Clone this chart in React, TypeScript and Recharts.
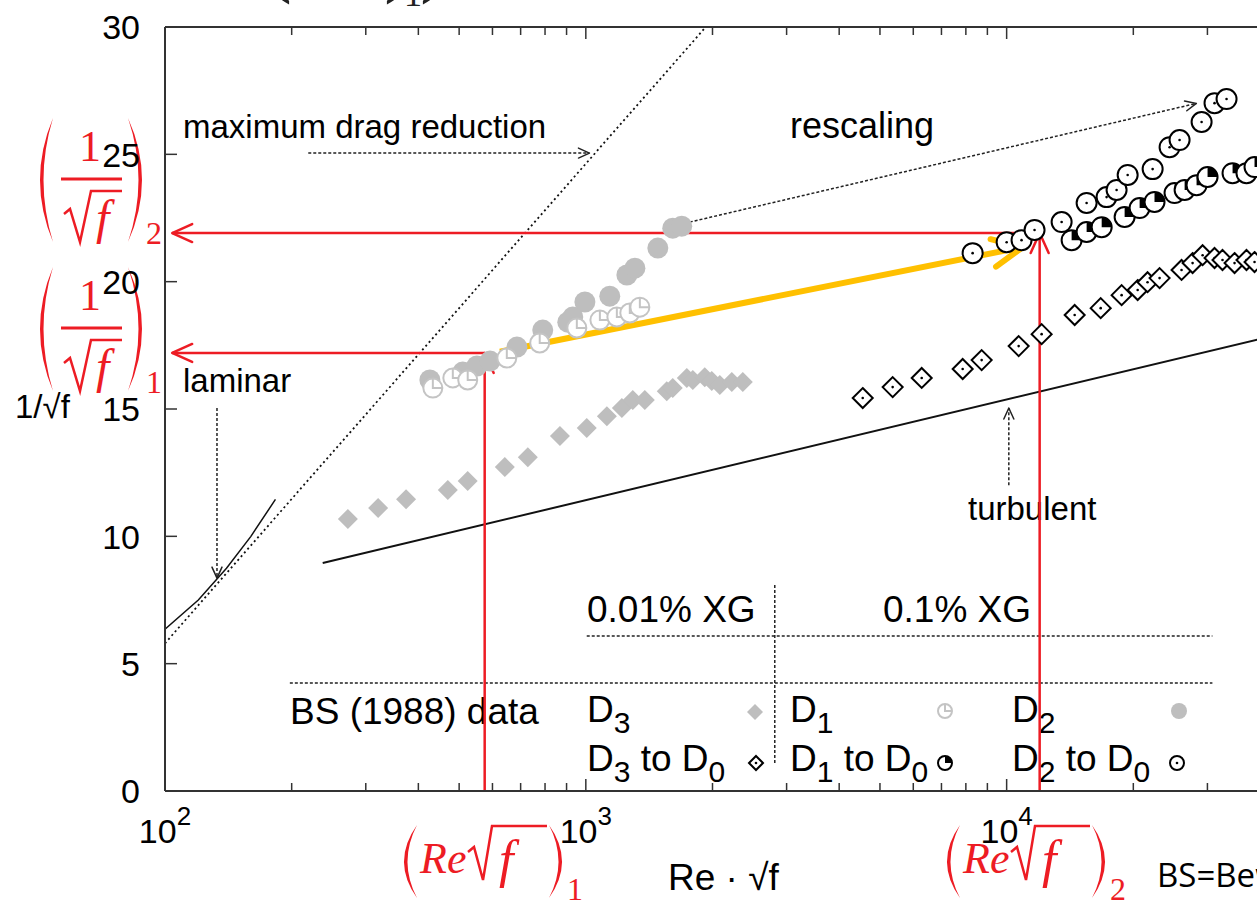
import React from "react";
import { ComposedChart, Scatter, Line, XAxis, YAxis, ReferenceLine } from "recharts";

const SANS = "'Liberation Sans', Arial, sans-serif";
const SERIF = "'Liberation Serif', 'DejaVu Serif', serif";
const RED = "#ed1c24";
const GRAY = "#bebebe";
const YELLOW = "#ffc000";

// Re*sqrt(f) vs 1/sqrt(f)
const d3Bs = [[272, 10.68], [321, 11.11], [374, 11.46], [470, 11.82], [524, 12.17], [642, 12.72], [728, 13.11], [868, 13.94], [1005, 14.25], [1122, 14.72], [1218, 15.04], [1293, 15.35], [1381, 15.35], [1557, 15.7], [1609, 15.82], [1738, 16.22], [1796, 16.14], [1917, 16.25], [1992, 16.1], [2082, 15.94], [2223, 16.06], [2361, 16.06]];
const d1Bs = [[433, 15.82], [483, 16.22], [524, 16.14], [649, 17.0], [777, 17.59], [952, 18.18], [1080, 18.49], [1185, 18.61], [1272, 18.77], [1344, 19.0]];
const d2Bs = [[426, 16.14], [510, 16.45], [551, 16.69], [592, 16.88], [686, 17.43], [790, 18.1], [906, 18.41], [931, 18.61], [995, 19.2], [1140, 19.43], [1252, 20.26], [1308, 20.53], [1483, 21.32], [1609, 22.1], [1690, 22.18]];
const d3ToD0 = [[4550, 15.43], [5360, 15.86], [6283, 16.22], [7862, 16.57], [8722, 16.92], [10680, 17.47], [12110, 17.94], [14510, 18.69], [16730, 18.96], [18760, 19.47], [20480, 19.67], [21620, 19.98], [23090, 20.14], [26040, 20.46], [27660, 20.73], [29220, 21.04], [31190, 20.93], [32580, 20.85], [34800, 20.73], [37150, 20.85], [38820, 20.77]];
const d1ToD0 = [[14270, 21.63], [15490, 21.95], [16820, 22.14], [19070, 22.54], [20700, 22.89], [22460, 23.13], [25060, 23.48], [26480, 23.6], [28270, 23.79], [30020, 24.11], [34420, 24.26], [37150, 24.26], [38820, 24.5]];
const d2ToD0 = [[8302, 21.12], [10000, 21.55], [10850, 21.63], [11650, 22.03], [13510, 22.34], [15490, 23.09], [17280, 23.32], [18250, 23.6], [19390, 24.19], [22230, 24.42], [24390, 25.28], [25760, 25.56], [29060, 26.27], [31190, 27.01], [33310, 27.17]];

// reference curves
const laminar = [[100, 6.35], [120, 7.5], [140, 8.75], [160, 10], [183, 11.45]];
const turbulent = [[237, 8.95], [40000, 17.75]];
const maxDragReduction = [[100, 5.8], [1928, 30]];

// annotation points
const point1 = [575, 17.2];
const point2 = [11980, 21.91];
const arrowLeftX = 104;
const yellowArrow = [[625, 17.25], [10920, 21.36]];
const mdrArrow = [[219, 25.05], [1020, 25.05]];
const rescaleArrow = [[1766, 22.34], [28240, 27.0]];
const laminarArrow = [[132.9, 15.04], [132.9, 8.36]];
const turbulentArrow = [[10120, 12.01], [10120, 15.04]];
const tableRules = [
  [[198, 4.24], [30830, 4.24]],
  [[1005, 6.09], [30830, 6.09]],
  [[2812, 8.09], [2812, 1.02]],
];

const xTicks = [100, 200, 300, 400, 500, 600, 700, 800, 900, 1000, 2000, 3000, 4000, 5000, 6000, 7000, 8000, 9000, 10000, 20000, 30000, 40000];
const yTicks = [0, 5, 10, 15, 20, 25, 30];

const pts = (a: number[][]) => a.map(([x, y]) => ({ x, y }));
const isMajor = (v: number) => Math.abs(Math.log10(v) - Math.round(Math.log10(v))) < 1e-9;

// markers
const GrayDiamond = ({ cx, cy, r = 10 }: any) => (
  <path d={`M${cx},${cy - r}L${cx + r},${cy}L${cx},${cy + r}L${cx - r},${cy}Z`} fill={GRAY} />
);
const GrayDot = ({ cx, cy, r = 10.5 }: any) => <circle cx={cx} cy={cy} r={r} fill={GRAY} />;
const GrayQuarter = ({ cx, cy, r = 9.5 }: any) => (
  <g fill="#fff" stroke="#c4c4c4" strokeWidth={2}>
    <circle cx={cx} cy={cy} r={r} />
    <path d={`M${cx},${cy - r}V${cy}H${cx + r}`} fill="none" />
  </g>
);
const OpenDiamondDot = ({ cx, cy, r = 10 }: any) => (
  <g>
    <path d={`M${cx},${cy - r}L${cx + r},${cy}L${cx},${cy + r}L${cx - r},${cy}Z`} fill="#fff" stroke="#000" strokeWidth={2} />
    <circle cx={cx} cy={cy} r={1.3} fill="#000" />
  </g>
);
const QuarterFilled = ({ cx, cy, r = 10 }: any) => (
  <g>
    <circle cx={cx} cy={cy} r={r} fill="#fff" stroke="#000" strokeWidth={2} />
    <path d={`M${cx},${cy}V${cy - r}A${r},${r} 0 0 1 ${cx + r},${cy}Z`} fill="#000" />
  </g>
);
const OpenCircleDot = ({ cx, cy, r = 10 }: any) => (
  <g>
    <circle cx={cx} cy={cy} r={r} fill="#fff" stroke="#000" strokeWidth={2} />
    <circle cx={cx} cy={cy} r={1.3} fill="#000" />
  </g>
);

// axis ticks
const BottomTick = ({ x, y, payload }: any) => {
  const v = payload.value;
  const major = isMajor(v);
  return (
    <g>
      <line x1={x} x2={x} y1={y} y2={y - (major ? 12 : 8)} stroke="#333" strokeWidth={1.5} />
      {major && (
        <text x={x} y={y + 52} textAnchor="middle" fontFamily={SANS} fontSize={34} fill="#000">
          10<tspan dy={-18} fontSize={26}>{Math.round(Math.log10(v))}</tspan>
        </text>
      )}
    </g>
  );
};
const TopTick = ({ x, y, payload }: any) => (
  <line x1={x} x2={x} y1={y} y2={y + (isMajor(payload.value) ? 12 : 8)} stroke="#333" strokeWidth={1.5} />
);
const LeftTick = ({ x, y, payload }: any) => (
  <g>
    <line x1={x} x2={x + 12} y1={y} y2={y} stroke="#333" strokeWidth={1.5} />
    <text x={x - 25} y={y} dy="0.36em" textAnchor="end" fontFamily={SANS} fontSize={34} fill="#000">
      {payload.value}
    </text>
  </g>
);
const RightTick = ({ x, y }: any) => <line x1={x} x2={x - 12} y1={y} y2={y} stroke="#333" strokeWidth={1.5} />;

const arrowShape = (head: number, spread: number) => (p: any) => {
  const { x1, y1, x2, y2, stroke, strokeWidth, strokeDasharray } = p;
  const dx = x2 - x1;
  const dy = y2 - y1;
  const len = Math.hypot(dx, dy) || 1;
  const ux = dx / len;
  const uy = dy / len;
  const bx = x2 - ux * head;
  const by = y2 - uy * head;
  const nx = -uy * spread;
  const ny = ux * spread;
  return (
    <g>
      <line x1={x1} y1={y1} x2={x2} y2={y2} stroke={stroke} strokeWidth={strokeWidth} strokeDasharray={strokeDasharray} />
      <polyline points={`${bx + nx},${by + ny} ${x2},${y2} ${bx - nx},${by - ny}`} fill="none" stroke={stroke}
        strokeWidth={strokeWidth} strokeLinecap="round" strokeLinejoin="round" />
    </g>
  );
};

const Paren = ({ x, top, bottom, side, depth, color = RED }: any) => {
  const mid = (top + bottom) / 2;
  const c1 = x + side * 2 * depth;
  const c2 = x + side * 2 * (depth - 3.5);
  return <path d={`M${x},${top} Q${c1},${mid} ${x},${bottom} Q${c2},${mid} ${x},${top}Z`} fill={color} />;
};

const Sub = ({ children }: any) => (
  <tspan fontSize={30} dy={11}>{children}</tspan>
);

const InvSqrtF = ({ dy, sub }: any) => (
  <g transform={`translate(0,${dy})`}>
    <Paren x={53} top={118} bottom={242} side={-1} depth={13} />
    <text x={90} y={161} textAnchor="middle" fontFamily={SERIF} fontSize={44} fill={RED}>1</text>
    <line x1={61} x2={122} y1={179} y2={179} stroke={RED} strokeWidth={3} />
    <path d="M64,214 L70,209 L80,242 L91,191 L122,191" fill="none" stroke={RED} strokeWidth={2.5} />
    <text x={96} y={234} fontFamily={SERIF} fontStyle="italic" fontSize={48} fill={RED}>f</text>
    <Paren x={128} top={118} bottom={242} side={1} depth={14} />
    <text x={146} y={244} fontFamily={SERIF} fontSize={32} fill={RED}>{sub}</text>
  </g>
);

const ReSqrtF = ({ x0, sub }: any) => (
  <g transform={`translate(${x0 - 417},0)`}>
    <Paren x={417} top={825} bottom={898} side={-1} depth={13} />
    <text x={420} y={873} fontFamily={SERIF} fontStyle="italic" fontSize={44} fill={RED}>Re</text>
    <path d="M468,852 L474,847 L483,880 L492,826 L547,826" fill="none" stroke={RED} strokeWidth={2.5} />
    <text x={499} y={877} fontFamily={SERIF} fontStyle="italic" fontSize={52} fill={RED}>f</text>
    <Paren x={549} top={825} bottom={898} side={1} depth={13} />
    <text x={567} y={900} fontFamily={SERIF} fontSize={32} fill={RED}>{sub}</text>
  </g>
);

const Overlay = () => (
  <svg width={1275} height={907} style={{ position: "absolute", left: 0, top: 0 }}>
    <g fontFamily={SERIF} fill="#222">
      <text x={262} y={-15} fontSize={90}>(</text>
      <text x={384} y={-15} fontSize={90}>)</text>
      <text x={404} y={6} fontSize={36}>1</text>
      <text x={420} y={-15} fontSize={90}>)</text>
    </g>
    <g fontFamily={SANS} fill="#000">
      <text x={183} y={138} fontSize={33}>maximum drag reduction</text>
      <text x={790} y={138} fontSize={36}>rescaling</text>
      <text x={183} y={392} fontSize={33}>laminar</text>
      <text x={968} y={520} fontSize={33}>turbulent</text>
      <text x={15} y={418} fontSize={33}>1/√f</text>
      <text x={668} y={890} fontSize={37}>Re · √f</text>
      <text x={587} y={622} fontSize={37}>0.01% XG</text>
      <text x={883} y={622} fontSize={37}>0.1% XG</text>
      <text x={290} y={724} fontSize={37}>BS (1988) data</text>
      <text x={587} y={722} fontSize={37}>D<Sub>3</Sub></text>
      <text x={790} y={722} fontSize={37}>D<Sub>1</Sub></text>
      <text x={1012} y={722} fontSize={37}>D<Sub>2</Sub></text>
      <text x={587} y={771} fontSize={37}>D<Sub>3</Sub><tspan dy={-11}> to D</tspan><Sub>0</Sub></text>
      <text x={790} y={771} fontSize={37}>D<Sub>1</Sub><tspan dy={-11}> to D</tspan><Sub>0</Sub></text>
      <text x={1012} y={771} fontSize={37}>D<Sub>2</Sub><tspan dy={-11}> to D</tspan><Sub>0</Sub></text>
      <text x={1157} y={887} fontSize={33} fontFamily="'Open Sans', 'DejaVu Sans', sans-serif">BS=Bewersdorff</text>
    </g>
    <GrayDiamond cx={755} cy={712} r={8} />
    <GrayQuarter cx={945} cy={711} r={7} />
    <GrayDot cx={1179} cy={711} r={8} />
    <OpenDiamondDot cx={756} cy={763} r={7} />
    <QuarterFilled cx={945} cy={763} r={7} />
    <OpenCircleDot cx={1177} cy={763} r={7} />
    <InvSqrtF dy={0} sub="2" />
    <InvSqrtF dy={149} sub="1" />
    <ReSqrtF x0={417} sub="1" />
    <ReSqrtF x0={960} sub="2" />
  </svg>
);

export default function App() {
  return (
    <div style={{ position: "fixed", left: 0, top: 0, width: 1257, height: 907, overflow: "hidden", background: "#fff" }}>
      <Overlay />
      <div style={{ position: "absolute", left: 0, top: 0 }}>
        <ComposedChart width={1275} height={907} margin={{ top: 0, right: 10, bottom: 0, left: 0 }}>
          <XAxis dataKey="x" type="number" scale="log" domain={[100, 40000]} allowDataOverflow ticks={xTicks}
            interval={0} height={116} tick={<BottomTick />} tickLine={false} tickSize={0} tickMargin={0}
            axisLine={{ stroke: "#333", strokeWidth: 2 }} />
          <XAxis xAxisId="top" orientation="top" dataKey="x" type="number" scale="log" domain={[100, 40000]}
            allowDataOverflow ticks={xTicks} interval={0} height={27} tick={<TopTick />} tickLine={false}
            tickSize={0} tickMargin={0} axisLine={{ stroke: "#333", strokeWidth: 2 }} />
          <YAxis dataKey="y" type="number" domain={[0, 30]} ticks={yTicks} interval={0} width={165}
            tick={<LeftTick />} tickLine={false} tickSize={0} tickMargin={0} allowDataOverflow
            axisLine={{ stroke: "#333", strokeWidth: 2 }} />
          <YAxis yAxisId="right" orientation="right" type="number" domain={[0, 30]} ticks={yTicks} interval={0}
            width={5} tick={<RightTick />} tickLine={false} tickSize={0} tickMargin={0}
            axisLine={{ stroke: "#333", strokeWidth: 2 }} />

          <Line data={pts(laminar)} dataKey="y" type="linear" stroke="#111" strokeWidth={1.5} dot={false} isAnimationActive={false} />
          <Line data={pts(maxDragReduction)} dataKey="y" type="linear" stroke="#111" strokeWidth={1.8}
            strokeDasharray="2 3" dot={false} isAnimationActive={false} />
          <Line data={pts(turbulent)} dataKey="y" type="linear" stroke="#111" strokeWidth={2} dot={false} isAnimationActive={false} />

          {tableRules.map((r, i) => (
            <ReferenceLine key={i} segment={pts(r)} stroke="#222" strokeWidth={1.5} strokeDasharray="3 2" ifOverflow="visible" />
          ))}
          <ReferenceLine segment={pts(mdrArrow)} stroke="#222" strokeWidth={1.5} strokeDasharray="3 2" shape={arrowShape(11, 5)} ifOverflow="visible" />
          <ReferenceLine segment={pts(rescaleArrow)} stroke="#222" strokeWidth={1.5} strokeDasharray="3 2" shape={arrowShape(11, 5)} ifOverflow="visible" />
          <ReferenceLine segment={pts(laminarArrow)} stroke="#222" strokeWidth={1.5} strokeDasharray="3 2" shape={arrowShape(11, 5)} ifOverflow="visible" />
          <ReferenceLine segment={pts(turbulentArrow)} stroke="#222" strokeWidth={1.5} strokeDasharray="3 2" shape={arrowShape(11, 5)} ifOverflow="visible" />

          <Scatter data={pts(d3Bs)} dataKey="y" isAnimationActive={false} shape={(p: any) => <GrayDiamond cx={p.cx} cy={p.cy} />} />
          <Scatter data={pts(d2Bs)} dataKey="y" isAnimationActive={false} shape={(p: any) => <GrayDot cx={p.cx} cy={p.cy} />} />
          <Scatter data={pts(d1Bs)} dataKey="y" isAnimationActive={false} shape={(p: any) => <GrayQuarter cx={p.cx} cy={p.cy} />} />
          <Scatter data={pts(d3ToD0)} dataKey="y" isAnimationActive={false} shape={(p: any) => <OpenDiamondDot cx={p.cx} cy={p.cy} />} />
          <Scatter data={pts(d1ToD0)} dataKey="y" isAnimationActive={false} shape={(p: any) => <QuarterFilled cx={p.cx} cy={p.cy} />} />
          <Scatter data={pts(d2ToD0)} dataKey="y" isAnimationActive={false} shape={(p: any) => <OpenCircleDot cx={p.cx} cy={p.cy} />} />

          <ReferenceLine segment={[{ x: point2[0], y: 0 }, { x: point2[0], y: point2[1] }]} stroke={RED} strokeWidth={2.5} shape={arrowShape(20, 9)} ifOverflow="visible" />
          <ReferenceLine segment={[{ x: point2[0], y: point2[1] }, { x: arrowLeftX, y: point2[1] }]} stroke={RED} strokeWidth={2.5} shape={arrowShape(20, 9)} ifOverflow="visible" />
          <ReferenceLine segment={[{ x: point1[0], y: 0 }, { x: point1[0], y: point1[1] }]} stroke={RED} strokeWidth={2.5} shape={arrowShape(20, 9)} ifOverflow="visible" />
          <ReferenceLine segment={[{ x: point1[0], y: point1[1] }, { x: arrowLeftX, y: point1[1] }]} stroke={RED} strokeWidth={2.5} shape={arrowShape(20, 9)} ifOverflow="visible" />
          <ReferenceLine segment={pts(yellowArrow)} stroke={YELLOW} strokeWidth={6} shape={arrowShape(30, 14)} ifOverflow="visible" />
        </ComposedChart>
      </div>
    </div>
  );
}
